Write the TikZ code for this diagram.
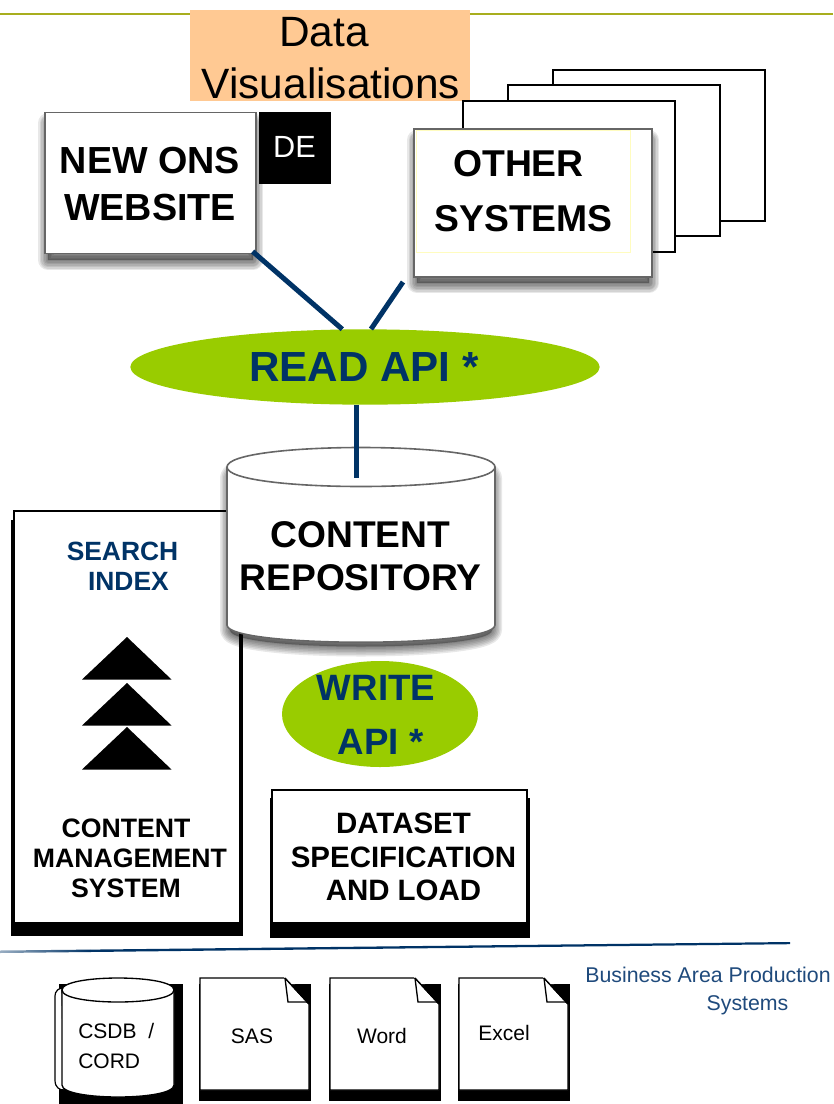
\documentclass[tikz,border=0pt]{standalone}
\usepackage{fontspec}
\setmainfont{Liberation Sans}
\usetikzlibrary{shapes.geometric}
\definecolor{apinavy}{HTML}{003366}
\definecolor{apigreen}{HTML}{99CC00}
\definecolor{vizorange}{HTML}{FFC993}
\definecolor{topolive}{HTML}{A8AE1E}
\definecolor{areablue}{HTML}{1F4A7C}
\tikzset{
    plaintxt/.style 2 args={font=\fontsize{#1}{#2}\selectfont,align=center,inner sep=0pt},
    boldtxt/.style 2 args={font=\fontsize{#1}{#2}\selectfont\bfseries,align=center,inner sep=0pt},
    apiline/.style={line width=3.75pt,apinavy},
    softedge/.style={draw=black!60,line width=1.2pt,fill=white},
    framebox/.style={draw=black,line width=1.1pt,fill=white},
    stackpage/.style={draw=black,line width=1.9pt,fill=white},
}
\newcommand{\softshadow}[1]{
    \foreach \w in {20,17,14,11,8,5,2}{
        \draw[black,opacity=.09,fill=black,fill opacity=.05,line width=\w*0.75pt,line join=round,shift={(0,8)}] #1;
    }
}
\begin{document}
\begin{tikzpicture}[x=0.75pt,y=-0.75pt]
            \useasboundingbox (0,0) rectangle (833,1104);

            % top rule and title
            \draw[topolive,line width=1.2pt] (0,14) -- (833,14);
            \node[fill=vizorange,minimum width=210pt,minimum height=68.25pt,inner sep=0pt] (vizbar) at (330,55.5) {};
            \node[plaintxt={31.8}{39}] (viztext) at (331,58) {Data\hspace*{10.5pt}\\Visualisations};

            % readers
            \softshadow{(48,115) rectangle (253,252)}
            \node[softedge,minimum width=158pt,minimum height=106pt,inner sep=0pt] (newons) at (150.5,183) {};
            \node[boldtxt={28.3}{35}] (newonstext) at (150,184) {NEW ONS\\WEBSITE};
            \node[fill=black,minimum width=54pt,minimum height=54pt,inner sep=0pt] (debox) at (295,148) {};
            \node[plaintxt={23}{27},text=white] (detext) at (294.5,147) {DE};

            \draw[stackpage] (553,70) rectangle (765,221);
            \draw[stackpage] (508,85) rectangle (720,236);
            \draw[stackpage] (463,101) rectangle (675,252);
            \softshadow{(417,132) rectangle (649,275)}
            \draw[softedge] (414,129) rectangle (652,277);
            \node[boldtxt={28}{41},draw=yellow!25,line width=.6pt,minimum width=160pt,minimum height=91.5pt] (othersys) at (523.5,191) {OTHER\hspace*{7.5pt}\\SYSTEMS};

            % read side
            \coordinate (otherfoot) at (403,282);
            \coordinate (repotop) at (356,478);
            \node[ellipse,fill=apigreen,minimum width=352pt,minimum height=56.5pt,inner sep=0pt] (readapi) at (365,367) {};
            \node[boldtxt={31.6}{37},text=apinavy] (readtext) at (364,367) {READ API *};
            \draw[apiline] ([shift={(-4,-3)}]newons.south east) -- (readapi.121);
            \draw[apiline] (otherfoot) -- (readapi.81);

            % content management system
            \fill[black] (11,520) rectangle (243,936);
            \draw[framebox] (14,511) rectangle (240,923);
            \node[boldtxt={19.8}{22.5},text=apinavy,align=left] (searchindex) at (122.5,566) {SEARCH\\\hspace*{16pt}INDEX};
            \foreach \y in {637,683,727}{
                \fill[black] (127,\y) -- (171.5,\y+42.5) -- (82,\y+42.5) -- cycle;
            }
            \node[boldtxt={20}{22.5}] (cmstext) at (126,858) {CONTENT\\\hspace*{6pt}MANAGEMENT\\SYSTEM};

            % repository
            \softshadow{(230,470) .. controls (230,443) and (492,443) .. (492,470) -- (492,622) .. controls (492,644) and (230,644) .. (230,622) -- cycle}
            \draw[softedge] (227,467) .. controls (227,441) and (495,441) .. (495,467) -- (495,625) .. controls (495,648) and (227,648) .. (227,625) -- cycle;
            \draw[black!60,line width=1.2pt] (227,467) .. controls (227,493) and (495,493) .. (495,467);
            \node[boldtxt={27.9}{32}] (repository) at (360.5,556) {CONTENT\\REPOSITORY};
            \draw[apiline] (readapi.south -| repotop) -- (repotop);

            % write side
            \node[ellipse,fill=apigreen,minimum width=147pt,minimum height=79.5pt,inner sep=0pt] (writeapi) at (380,714) {};
            \node[boldtxt={27.5}{40},text=apinavy] (writetext) at (376,715) {WRITE\\\hspace*{7pt}API *};

            \fill[black] (270,798) rectangle (530,938);
            \draw[framebox] (272,790) rectangle (527,923);
            \node[boldtxt={22.1}{25}] (dataset) at (403.5,857) {DATASET\\SPECIFICATION\\AND LOAD};

            % divider
            \shade[left color=apinavy!40,right color=apinavy] (0,950.5) -- (90,949.6) -- (90,952) -- (0,953) -- cycle;
            \fill[apinavy] (90,949.6) -- (790,942) -- (790,944.2) -- (90,952) -- cycle;
            \node[plaintxt={16}{21},text=areablue,align=left,anchor=north west] (areatext) at (585,967) {Business Area Production\\\hspace*{91pt}Systems};

            % source systems
            \fill[black] (59,984) rectangle (183,1104);
            \draw[black,line width=.9pt,fill=white] (62,988) .. controls (54,990) and (55,995) .. (55,1000) -- (55,1080) .. controls (55,1088) and (60,1090) .. (64,1090) -- cycle;
            \draw[black,line width=1pt,fill=white] (62,990) .. controls (62,974) and (174,974) .. (174,990) -- (174,1085) .. controls (174,1101) and (62,1101) .. (62,1085) -- cycle;
            \draw[black,line width=1pt] (62,990) .. controls (62,1006) and (174,1006) .. (174,990);
            \node[plaintxt={15.75}{22.5},align=left,anchor=north west] (csdb) at (78,1023) {CSDB~~/\\CORD};

            \foreach \x/\name/\tx/\ty in {200/SAS/252/1036,330/Word/382/1036,459/Excel/504/1033}{
                \fill[black] (\x-1,984) rectangle (\x+111,1101);
                \draw[black,line width=1pt,fill=white] (\x,978) -- (\x+85,978) -- (\x+109,1004) -- (\x+109,1090) -- (\x,1090) -- cycle;
                \fill[white] (\x+84,977) -- (\x+95,977) -- (\x+95,984) -- (\x+91,984) -- cycle;
                \draw[black,line width=1pt] (\x+85,978) -- (\x+88,1002) -- (\x+109,1002);
                \draw[black,line width=1pt] (\x+85,978) -- (\x+109,1004);
                \node[plaintxt={15.75}{19}] (doc\name) at (\tx,\ty) {\name};
            }
\end{tikzpicture}
\end{document}
